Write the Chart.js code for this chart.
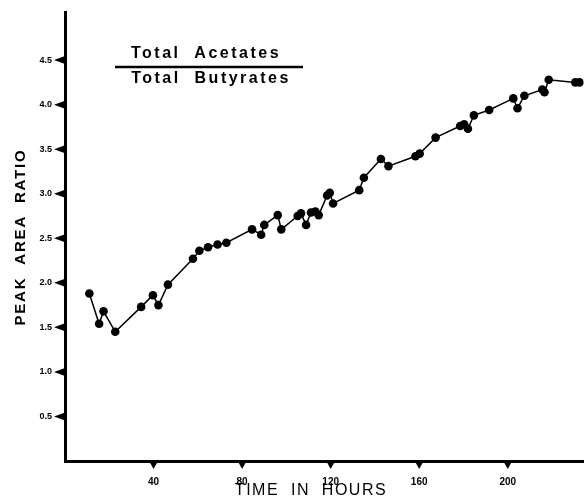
<!DOCTYPE html>
<html>
<head>
<meta charset="utf-8">
<script src="https://cdn.jsdelivr.net/npm/chart.js@4.4.1/dist/chart.umd.min.js"></script>
<style>
  body { margin: 0; background: #fff; }
  canvas { display: block; }
</style>
</head>
<body>
<canvas id="ratioChart" width="588" height="499"></canvas>
<script>
// time (hours) and peak area ratio
const hours = [11, 15.4, 17.4, 22.7, 34.4, 39.7, 42.2, 46.5, 57.8, 60.7, 64.6, 68.9, 72.9,
  84.5, 88.6, 90, 96.1, 97.7, 105.1, 106.6, 108.9, 111.1, 113.1, 114.6, 118.4, 119.6, 121.1,
  132.9, 135, 142.7, 146.1, 158.3, 160.2, 167.4, 178.5, 180.3, 182, 184.7, 191.6,
  202.5, 204.4, 207.5, 215.6, 216.6, 218.5, 230.5, 232.4];
const ratio = [1.88, 1.54, 1.68, 1.45, 1.73, 1.86, 1.75, 1.98, 2.27, 2.36, 2.40, 2.43, 2.45,
  2.60, 2.54, 2.65, 2.76, 2.60, 2.75, 2.78, 2.65, 2.79, 2.80, 2.76, 2.98, 3.01, 2.89,
  3.04, 3.18, 3.39, 3.31, 3.42, 3.45, 3.63, 3.76, 3.78, 3.73, 3.88, 3.94,
  4.07, 3.96, 4.10, 4.17, 4.14, 4.28, 4.25, 4.25];

const xTicks = [40, 80, 120, 160, 200];
const yTicks = [0.5, 1.0, 1.5, 2.0, 2.5, 3.0, 3.5, 4.0, 4.5];

const FONT = "'Liberation Sans', Arial, Helvetica, sans-serif";

// triangle tick marks, axis titles and the fraction label
const decor = {
  id: 'decor',
  afterDraw(chart) {
    const c = chart.ctx;
    const xs = chart.scales.x, ys = chart.scales.y;
    const area = chart.chartArea;
    c.save();
    c.fillStyle = '#000';
    c.strokeStyle = '#000';

    xTicks.forEach(v => {
      const px = xs.getPixelForValue(v);
      c.beginPath();
      c.moveTo(px - 4.5, area.bottom);
      c.lineTo(px + 4.5, area.bottom);
      c.lineTo(px, area.bottom + 8);
      c.closePath();
      c.fill();
    });
    yTicks.forEach(v => {
      const py = ys.getPixelForValue(v);
      c.beginPath();
      c.moveTo(area.left, py - 4);
      c.lineTo(area.left, py + 4);
      c.lineTo(area.left - 11, py);
      c.closePath();
      c.fill();
    });

    c.textAlign = 'center';
    c.textBaseline = 'middle';

    c.font = '16px ' + FONT;
    c.letterSpacing = '1.5px';
    c.fillText('TIME  IN  HOURS', 311, 491);

    c.save();
    c.translate(21, 237);
    c.rotate(-Math.PI / 2);
    c.font = 'bold 15px ' + FONT;
    c.letterSpacing = '1.8px';
    c.fillText('PEAK  AREA  RATIO', 0, 0);
    c.restore();

    c.font = 'bold 16px ' + FONT;
    c.letterSpacing = '2.5px';
    c.textBaseline = 'alphabetic';
    c.fillText('Total  Acetates', 206, 58);
    c.fillText('Total  Butyrates', 211, 83);
    c.lineWidth = 2.5;
    c.beginPath();
    c.moveTo(115, 67);
    c.lineTo(303, 67);
    c.stroke();
    c.restore();
  }
};

const ctx = document.getElementById('ratioChart').getContext('2d');

const ratioChart = new Chart(ctx, {
  type: 'scatter',
  data: {
    datasets: [{
      label: 'Total Acetates / Total Butyrates',
      data: hours.map((h, i) => ({ x: h, y: ratio[i] })),
      showLine: true,
      borderColor: '#000',
      backgroundColor: '#000',
      borderWidth: 1.5,
      pointRadius: 4.3,
      pointBackgroundColor: '#000',
      pointBorderWidth: 0
    }]
  },
  options: {
    responsive: false,
    animation: false,
    layout: { padding: { top: 12, right: 0, left: 0, bottom: 0 } },
    plugins: {
      legend: { display: false },
      tooltip: { enabled: false }
    },
    scales: {
      x: {
        type: 'linear',
        min: 0,
        max: 234.3,
        grid: { display: false },
        border: { display: true, color: '#000', width: 3 },
        afterBuildTicks: scale => { scale.ticks = xTicks.map(v => ({ value: v })); },
        afterFit: scale => { scale.height = 38; },
        ticks: {
          color: '#000',
          padding: 7,
          maxRotation: 0,
          font: { family: FONT, size: 10, weight: 'bold' }
        }
      },
      y: {
        min: 0,
        max: 5.04,
        grid: { display: false },
        border: { display: true, color: '#000', width: 3 },
        afterBuildTicks: scale => { scale.ticks = yTicks.map(v => ({ value: v })); },
        afterFit: scale => { scale.width = 65; },
        ticks: {
          color: '#000',
          padding: 5,
          font: { family: FONT, size: 9, weight: 'bold' },
          callback: v => v.toFixed(1)
        }
      }
    }
  },
  plugins: [decor]
});
</script>
</body>
</html>
